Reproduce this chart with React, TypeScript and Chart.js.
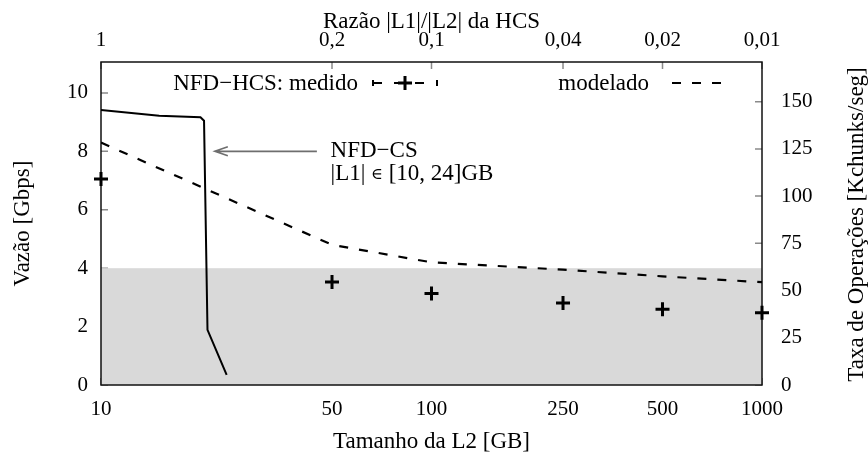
import React, { useEffect, useRef } from "react";
import { Chart, registerables } from "chart.js";

Chart.register(...registerables);

// ---- data ----
const l2SizesGB = [10, 50, 100, 250, 500, 1000];
const ratioTickLabels = ["1", "0,2", "0,1", "0,04", "0,02", "0,01"];
const measuredGbps = [7.05, 3.53, 3.13, 2.81, 2.59, 2.47];
const modeledGbps = [8.3, 4.8, 4.2, 3.95, 3.72, 3.52];
const csL2SizesGB = [10, 15, 20, 20.5, 21, 24];
const csGbps = [9.42, 9.22, 9.17, 9.05, 1.89, 0.35];
const leftTicks = [0, 2, 4, 6, 8, 10];
const rightTicks = [0, 25, 50, 75, 100, 125, 150];
const shadedMaxGbps = 4;
const leftMax = 11.06;
const rightMax = 171;
const arrowFrom = { x: 45, y: 8 };
const arrowTo = { x: 22.1, y: 8 };
const noteAnchor = { x: 49.5, y1: 8.0, y2: 7.22 };

const FAMILY = "'Liberation Serif', 'Times New Roman', serif";
const TICK_FONT = { family: FAMILY, size: 21 };
const TITLE_FONT = { family: FAMILY, size: 23 };

const decorPlugin = {
  id: "decor",
  beforeDatasetsDraw(chart: any) {
    const { ctx, chartArea: ca, scales } = chart;
    const y = scales.y;
    const y1 = scales.y1;
    const x = scales.x;
    const x2 = scales.x2;
    ctx.save();
    // inward ticks
    ctx.strokeStyle = "#8a8a8a";
    ctx.lineWidth = 1.5;
    ctx.beginPath();
    leftTicks.forEach((v) => {
      const p = y.getPixelForValue(v);
      ctx.moveTo(ca.left, p);
      ctx.lineTo(ca.left + 7, p);
    });
    rightTicks.forEach((v) => {
      const p = y1.getPixelForValue(v);
      ctx.moveTo(ca.right, p);
      ctx.lineTo(ca.right - 7, p);
    });
    l2SizesGB.forEach((v) => {
      const p = x2.getPixelForValue(v);
      ctx.moveTo(p, ca.top);
      ctx.lineTo(p, ca.top + 7);
      const q = x.getPixelForValue(v);
      ctx.moveTo(q, ca.bottom);
      ctx.lineTo(q, ca.bottom - 7);
    });
    ctx.stroke();
    // shaded region
    const top = y.getPixelForValue(shadedMaxGbps);
    ctx.fillStyle = "#d9d9d9";
    ctx.fillRect(ca.left, top, ca.right - ca.left, ca.bottom - top);
    // frame
    ctx.strokeStyle = "#111";
    ctx.lineWidth = 1.5;
    ctx.strokeRect(ca.left, ca.top, ca.right - ca.left, ca.bottom - ca.top);
    ctx.restore();
  },
  afterDraw(chart: any) {
    const { ctx, chartArea: ca, scales } = chart;
    const x = scales.x;
    const y = scales.y;
    const mainFont = `${TITLE_FONT.size}px ${FAMILY}`;
    ctx.save();
    ctx.fillStyle = "#000";
    ctx.font = mainFont;

    // right axis title (reads bottom to top)
    ctx.save();
    ctx.translate(chart.width - 11, (ca.top + ca.bottom) / 2 + 1);
    ctx.rotate(-Math.PI / 2);
    ctx.textAlign = "center";
    ctx.textBaseline = "middle";
    ctx.fillText("Taxa de Operações [Kchunks/seg]", 0, 0);
    ctx.restore();

    // legend
    const ly = ca.top + 21;
    ctx.textAlign = "right";
    ctx.textBaseline = "middle";
    ctx.fillText("NFD−HCS: medido", ca.left + 257, ly + 1);
    ctx.fillText("modelado", ca.left + 548, ly + 1);

    ctx.strokeStyle = "#000";
    ctx.lineWidth = 2;
    // measured sample
    const s0 = ca.left + 272;
    const s1 = ca.left + 336;
    ctx.setLineDash([9, 12]);
    ctx.beginPath();
    ctx.moveTo(s0, ly);
    ctx.lineTo(s1, ly);
    ctx.stroke();
    ctx.setLineDash([]);
    ctx.beginPath();
    ctx.moveTo(s0, ly - 3);
    ctx.lineTo(s0, ly + 3);
    ctx.moveTo(s1, ly - 3);
    ctx.lineTo(s1, ly + 3);
    ctx.stroke();
    const cx = (s0 + s1) / 2;
    ctx.lineWidth = 3;
    ctx.beginPath();
    ctx.moveTo(cx - 7, ly);
    ctx.lineTo(cx + 7, ly);
    ctx.moveTo(cx, ly - 7);
    ctx.lineTo(cx, ly + 7);
    ctx.stroke();
    // modeled sample
    ctx.lineWidth = 2;
    ctx.setLineDash([9, 11]);
    ctx.beginPath();
    ctx.moveTo(ca.left + 571, ly);
    ctx.lineTo(ca.left + 621, ly);
    ctx.stroke();
    ctx.setLineDash([]);

    // annotation arrow
    const ax0 = x.getPixelForValue(arrowFrom.x);
    const ay0 = y.getPixelForValue(arrowFrom.y);
    const ax1 = x.getPixelForValue(arrowTo.x);
    const ay1 = y.getPixelForValue(arrowTo.y);
    ctx.strokeStyle = "#6e6e6e";
    ctx.lineWidth = 1.6;
    ctx.beginPath();
    ctx.moveTo(ax0, ay0);
    ctx.lineTo(ax1, ay1);
    ctx.moveTo(ax1 + 13, ay1 - 4.5);
    ctx.lineTo(ax1, ay1);
    ctx.lineTo(ax1 + 13, ay1 + 4.5);
    ctx.stroke();

    ctx.textAlign = "left";
    ctx.textBaseline = "middle";
    const tx = x.getPixelForValue(noteAnchor.x);
    ctx.fillText("NFD−CS", tx, y.getPixelForValue(noteAnchor.y1));
    const ty = y.getPixelForValue(noteAnchor.y2);
    let cur = tx;
    const part1 = "|L1| ";
    ctx.fillText(part1, cur, ty);
    cur += ctx.measureText(part1).width;
    ctx.font = `16px 'DejaVu Serif', ${FAMILY}`;
    ctx.fillText("∈", cur, ty + 1);
    cur += ctx.measureText("∈").width;
    ctx.font = mainFont;
    ctx.fillText(" [10, 24]GB", cur, ty);
    ctx.restore();
  },
};

export default function App() {
  const canvasRef = useRef<HTMLCanvasElement | null>(null);

  useEffect(() => {
    document.body.style.margin = "0";
    const canvas = canvasRef.current;
    if (!canvas) return;
    const fixedTicks = (scale: any) => {
      scale.ticks = l2SizesGB.map((v) => ({ value: v }));
    };
    const chart = new Chart(canvas, {
      type: "line",
      data: {
        datasets: [
          {
            label: "NFD-CS",
            data: csL2SizesGB.map((v, i) => ({ x: v, y: csGbps[i] })),
            borderColor: "#000",
            borderWidth: 2,
            pointRadius: 0,
            tension: 0,
            xAxisID: "x",
            yAxisID: "y",
          },
          {
            label: "modelado",
            data: l2SizesGB.map((v, i) => ({ x: v, y: modeledGbps[i] })),
            borderColor: "#000",
            borderWidth: 2.2,
            borderDash: [9, 11],
            pointRadius: 0,
            tension: 0,
            xAxisID: "x",
            yAxisID: "y",
          },
          {
            label: "NFD-HCS: medido",
            data: l2SizesGB.map((v, i) => ({ x: v, y: measuredGbps[i] })),
            showLine: false,
            pointStyle: "cross",
            pointRadius: 7,
            pointBorderWidth: 3,
            pointBorderColor: "#000",
            borderColor: "#000",
            clip: false as any,
            xAxisID: "x",
            yAxisID: "y",
          },
        ],
      },
      options: {
        responsive: false,
        animation: false,
        devicePixelRatio: 1,
        layout: { padding: 0 },
        plugins: {
          legend: { display: false },
          tooltip: { enabled: false },
        },
        scales: {
          x: {
            type: "logarithmic",
            position: "bottom",
            min: 10,
            max: 1000,
            afterBuildTicks: fixedTicks,
            afterFit: (s: any) => {
              s.height = 71;
            },
            grid: { display: false, drawTicks: false },
            border: { display: false },
            ticks: {
              color: "#000",
              font: TICK_FONT,
              padding: 12,
              maxRotation: 0,
              autoSkip: false,
              callback: (v: any) => String(v),
            },
            title: {
              display: true,
              text: "Tamanho da L2 [GB]",
              color: "#000",
              font: TITLE_FONT,
              padding: { top: 0, bottom: 0 },
            },
          },
          x2: {
            type: "logarithmic",
            position: "top",
            min: 10,
            max: 1000,
            afterBuildTicks: fixedTicks,
            afterFit: (s: any) => {
              s.height = 62;
            },
            grid: { display: false, drawTicks: false },
            border: { display: false },
            ticks: {
              color: "#000",
              font: TICK_FONT,
              padding: 9,
              maxRotation: 0,
              autoSkip: false,
              callback: (_v: any, i: number) => ratioTickLabels[i],
            },
            title: {
              display: true,
              text: "Razão |L1|/|L2| da HCS",
              color: "#000",
              font: TITLE_FONT,
              padding: { top: 8, bottom: 0 },
            },
          },
          y: {
            type: "linear",
            position: "left",
            min: 0,
            max: leftMax,
            afterBuildTicks: (s: any) => {
              s.ticks = leftTicks.map((v) => ({ value: v }));
            },
            afterFit: (s: any) => {
              s.width = 101;
            },
            grid: { display: false, drawTicks: false },
            border: { display: false },
            ticks: {
              color: "#000",
              font: TICK_FONT,
              padding: 13,
              callback: (v: any) => String(v),
            },
            title: {
              display: true,
              text: "Vazão [Gbps]",
              color: "#000",
              font: TITLE_FONT,
              padding: { top: 9, bottom: 0 },
            },
          },
          y1: {
            type: "linear",
            position: "right",
            min: 0,
            max: rightMax,
            afterBuildTicks: (s: any) => {
              s.ticks = rightTicks.map((v) => ({ value: v }));
            },
            afterFit: (s: any) => {
              s.width = 106;
            },
            grid: { display: false, drawTicks: false },
            border: { display: false },
            ticks: {
              color: "#000",
              font: TICK_FONT,
              padding: 19,
              callback: (v: any) => String(v),
            },
          },
        },
      } as any,
      plugins: [decorPlugin],
    });
    return () => chart.destroy();
  }, []);

  return (
    <div style={{ position: "absolute", left: 0, top: 0, width: 868, height: 456, background: "#fff" }}>
      <canvas ref={canvasRef} width={868} height={456} />
    </div>
  );
}
